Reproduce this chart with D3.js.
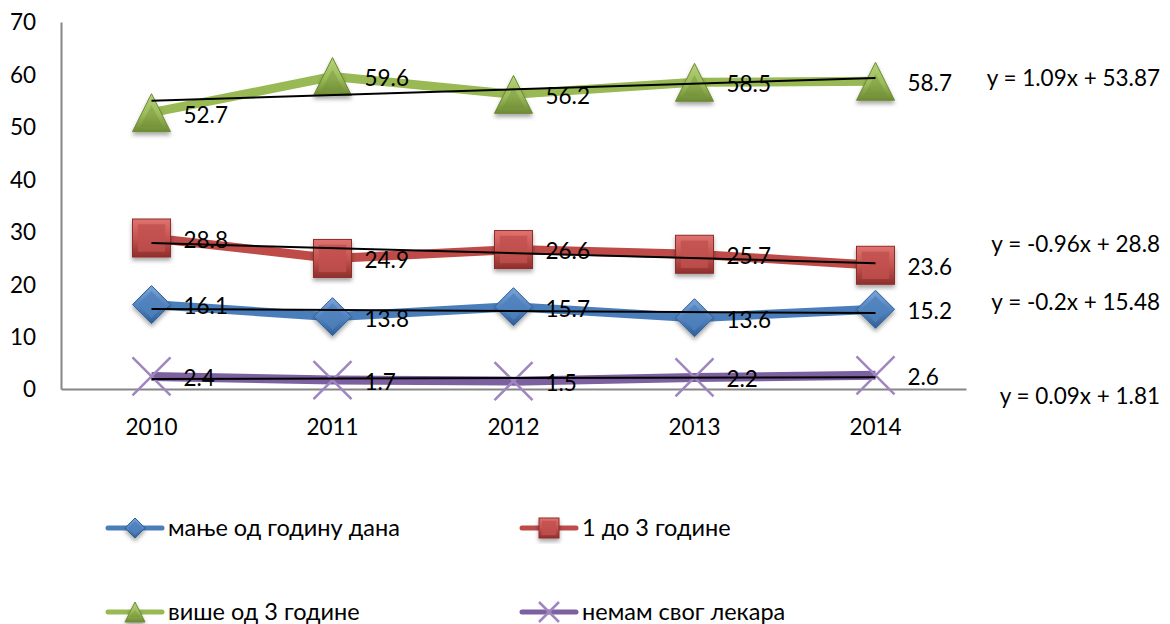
<!DOCTYPE html>
<html>
<head>
<meta charset="utf-8">
<title>Line chart with trendlines</title>
<script src="https://cdn.jsdelivr.net/npm/d3@7"></script>
<style>
  body { margin: 0; background: #fff; }
  text { font-family: Lato, "Open Sans", sans-serif; font-size: 22.5px; fill: #000; }
</style>
</head>
<body>
<div id="chart"></div>
<script>
var years = ["2010", "2011", "2012", "2013", "2014"];
var yTicks = [0, 10, 20, 30, 40, 50, 60, 70];
var seriesNames = ["мање од годину дана", "1 до 3 године", "више од 3 године", "немам свог лекара"];
var lessThanYear = [16.1, 13.8, 15.7, 13.6, 15.2];
var oneToThree = [28.8, 24.9, 26.6, 25.7, 23.6];
var moreThanThree = [52.7, 59.6, 56.2, 58.5, 58.7];
var noDoctor = [2.4, 1.7, 1.5, 2.2, 2.6];
// trendline: [slope, intercept], x = 1..5
var trends = [[-0.2, 15.48], [-0.96, 28.8], [1.09, 53.87], [0.09, 1.81]];
var trendLabels = ["y = -0.2x + 15.48", "y = -0.96x + 28.8", "y = 1.09x + 53.87", "y = 0.09x + 1.81"];

var width = 1170, height = 624;
var svg = d3.select("#chart").append("svg")
  .attr("width", width).attr("height", height);

var defs = svg.append("defs");
var f = defs.append("filter").attr("id", "shadow").attr("x", "-30%").attr("y", "-30%").attr("width", "160%").attr("height", "160%");
f.append("feDropShadow").attr("dx", 0).attr("dy", 3).attr("stdDeviation", 2).attr("flood-color", "#000").attr("flood-opacity", 0.35);

var series = [
  {name: seriesNames[0], values: lessThanYear, line: "#4a7ebb", fill: "#4f81bd", light: "#7aa4d8", dark: "#2f5f98", shape: "diamond"},
  {name: seriesNames[1], values: oneToThree, line: "#be4b48", fill: "#c0504d", light: "#e07370", dark: "#8e2f2c", shape: "square"},
  {name: seriesNames[2], values: moreThanThree, line: "#98b954", fill: "#9bbb59", light: "#b5d27a", dark: "#6d8a34", shape: "triangle"},
  {name: seriesNames[3], values: noDoctor, line: "#7d60a0", fill: "#8064a2", light: "#9f86c0", dark: "#5d4580", shape: "x"}
];

series.forEach(function(s, i) {
  var g = defs.append("linearGradient").attr("id", "grad" + i)
    .attr("x1", 0).attr("y1", 0).attr("x2", 0).attr("y2", 1);
  g.append("stop").attr("offset", "0%").attr("stop-color", s.light);
  g.append("stop").attr("offset", "55%").attr("stop-color", s.fill);
  g.append("stop").attr("offset", "100%").attr("stop-color", s.dark);
});

var x = d3.scaleBand().domain(years).range([61, 966]).padding(0);
var cx = function(yr) { return x(yr) + x.bandwidth() / 2; };
var y = d3.scaleLinear().domain([0, 70]).range([389, 22]);

// axes
var yAxis = svg.append("g").attr("transform", "translate(61,0)")
  .call(d3.axisLeft(y).tickValues(yTicks).tickSize(0).tickPadding(25));
yAxis.select(".domain").attr("stroke", "#868686").attr("stroke-width", 2);
yAxis.selectAll("text").attr("dy", "0.35em").style("font-size", "22.5px");

var xAxis = svg.append("g").attr("transform", "translate(0,389)")
  .call(d3.axisBottom(x).tickSize(0).tickPadding(30));
xAxis.select(".domain").attr("stroke", "#868686").attr("stroke-width", 2);
xAxis.selectAll("text").style("font-size", "22.5px");

function marker(sel, s, i, size) {
  var h = size / 2;
  if (s.shape === "square") {
    sel.append("rect").attr("x", -h).attr("y", -h).attr("width", size).attr("height", size)
      .attr("fill", "url(#grad" + i + ")").attr("stroke", s.dark).attr("stroke-width", 1).attr("filter", "url(#shadow)");
    sel.append("rect").attr("x", -h * 0.72).attr("y", -h * 0.72).attr("width", size * 0.72).attr("height", size * 0.72)
      .attr("fill", s.fill).attr("opacity", 0.8);
  } else if (s.shape === "diamond") {
    sel.append("path").attr("d", "M0," + (-h) + "L" + h + ",0L0," + h + "L" + (-h) + ",0Z")
      .attr("fill", "url(#grad" + i + ")").attr("stroke", s.dark).attr("stroke-width", 1).attr("filter", "url(#shadow)");
    var k = h * 0.7;
    sel.append("path").attr("d", "M0," + (-k) + "L" + k + ",0L0," + k + "L" + (-k) + ",0Z")
      .attr("fill", s.fill).attr("opacity", 0.8);
  } else if (s.shape === "triangle") {
    sel.append("path").attr("d", "M0," + (-h) + "L" + h + "," + h + "L" + (-h) + "," + h + "Z")
      .attr("fill", "url(#grad" + i + ")").attr("stroke", s.dark).attr("stroke-width", 1).attr("filter", "url(#shadow)");
    var t = h * 0.6;
    sel.append("path").attr("d", "M0," + (-t + 4) + "L" + t + "," + (h - 5) + "L" + (-t) + "," + (h - 5) + "Z")
      .attr("fill", s.dark).attr("opacity", 0.35);
  } else {
    sel.append("path").attr("d", "M" + (-h) + "," + (-h) + "L" + h + "," + h + "M" + h + "," + (-h) + "L" + (-h) + "," + h)
      .attr("stroke", s.light).attr("stroke-width", 2.5).attr("fill", "none");
  }
}

var line = d3.line().x(function(d) { return cx(d.year); }).y(function(d) { return y(d.value); });

// series lines and markers
series.forEach(function(s, i) {
  var pts = years.map(function(yr, j) { return {year: yr, value: s.values[j]}; });
  svg.append("path").datum(pts).attr("d", line)
    .attr("fill", "none").attr("stroke", s.line).attr("stroke-width", 9).attr("stroke-linejoin", "round");
  svg.append("g").selectAll("g").data(pts).enter().append("g")
    .attr("transform", function(d) { return "translate(" + cx(d.year) + "," + y(d.value) + ")"; })
    .each(function() { marker(d3.select(this), s, i, 38); });
});

// trendlines
series.forEach(function(s, i) {
  var a = trends[i][0], b = trends[i][1];
  var tp = [{year: years[0], value: a * 1 + b}, {year: years[4], value: a * 5 + b}];
  svg.append("path").datum(tp).attr("d", line)
    .attr("stroke", "#000").attr("stroke-width", 2).attr("fill", "none");
});

// data labels
series.forEach(function(s) {
  svg.append("g").selectAll("text").data(s.values).enter().append("text")
    .attr("x", function(d, j) { return cx(years[j]) + 32; })
    .attr("y", function(d) { return y(d) + 2; })
    .attr("dy", "0.35em")
    .text(function(d) { return d.toFixed(1); });
});

// trend equations
var eqY = [302, 244, 78, 396];
trendLabels.forEach(function(t, i) {
  svg.append("text").attr("x", 1160).attr("y", eqY[i]).attr("dy", "0.35em")
    .attr("text-anchor", "end").text(t);
});

// legend
var legPos = [[108, 528], [522, 528], [108, 612], [522, 612]];
series.forEach(function(s, i) {
  var lg = svg.append("g").attr("transform", "translate(" + legPos[i][0] + "," + legPos[i][1] + ")");
  lg.append("line").attr("x1", 0).attr("x2", 54).attr("stroke", s.line).attr("stroke-width", 5).attr("stroke-linecap", "round");
  var m = lg.append("g").attr("transform", "translate(27,0)");
  marker(m, s, i, 20);
  lg.append("text").attr("x", 60).attr("dy", "0.35em").style("font-size", "23.5px").text(s.name);
});
</script>
</body>
</html>
